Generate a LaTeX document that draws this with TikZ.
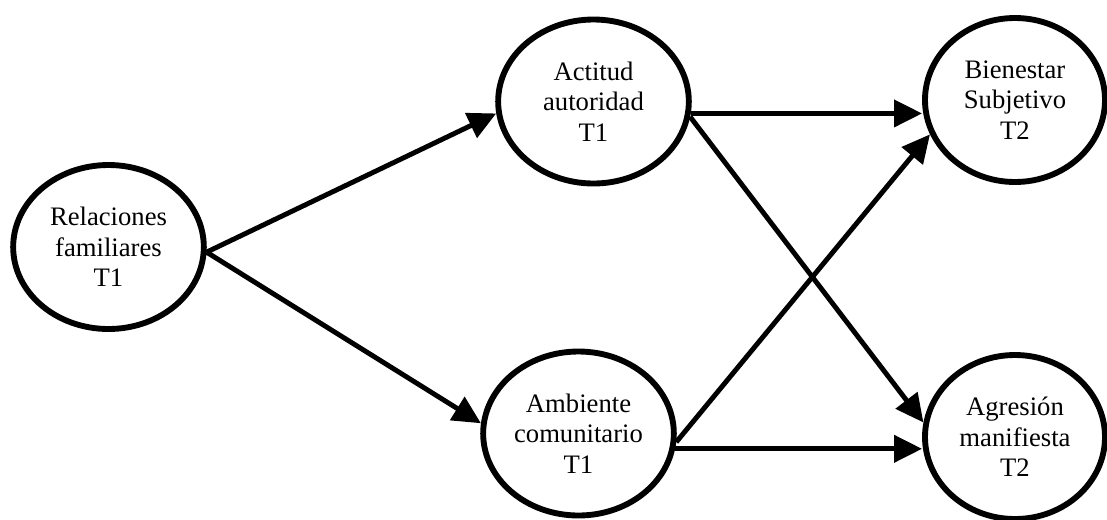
\documentclass[tikz,border=0pt]{standalone}
\usepackage{fontspec}
\setmainfont{Liberation Serif}
\usetikzlibrary{shapes}
\usetikzlibrary{arrows.meta}
\tikzstyle{construct} = [ellipse,fill=white,draw=black,line width=4.4pt,inner sep=0pt,
minimum width=143pt, minimum height=123pt, align=center,
font=\fontsize{20}{23}\selectfont]
\tikzstyle{outcome} = [construct, minimum width=135pt]
\tikzstyle{path} = [->, line width=3.7pt]
\tikzset{>={Triangle[length=21pt,width=20pt]}}
\newcommand{\edge}[3][]{ %
  % Connect all nodes #2 to all nodes #3.
  \foreach \x in {#2} { %
    \foreach \y in {#3} { %
      \path (\x) edge [path,#1] (\y) ;%
    } ;
  } ;
}

\begin{document}
\begin{tikzpicture}[x=0.75pt,y=-0.75pt]
                \useasboundingbox (0,0) rectangle (1107,519);

                \node[construct] (rel) at (108.5,247) {Relaciones\\familiares\\T1} ; %
                \node[construct] (act) at (593.5,101.5) {Actitud\\autoridad\\T1} ; %
                \node[construct] (amb) at (578.5,433.5) {Ambiente\\comunitario\\T1} ; %
                \node[outcome] (bien) at (1015,100) {Bienestar\\Subjetivo\\T2} ; %
                \node[outcome] (agr) at (1015,437) {Agresión\\manifiesta\\T2} ; %

                \edge {rel.-3} {act.187,amb.174};
                \edge {act.-7} {act.-7 -| bien.west};
                \edge {act.-9} {agr.171};
                \edge {amb.-5} {bien.202};
                \edge {amb.-9} {amb.-9 -| agr.west};
            \end{tikzpicture}
\end{document}
